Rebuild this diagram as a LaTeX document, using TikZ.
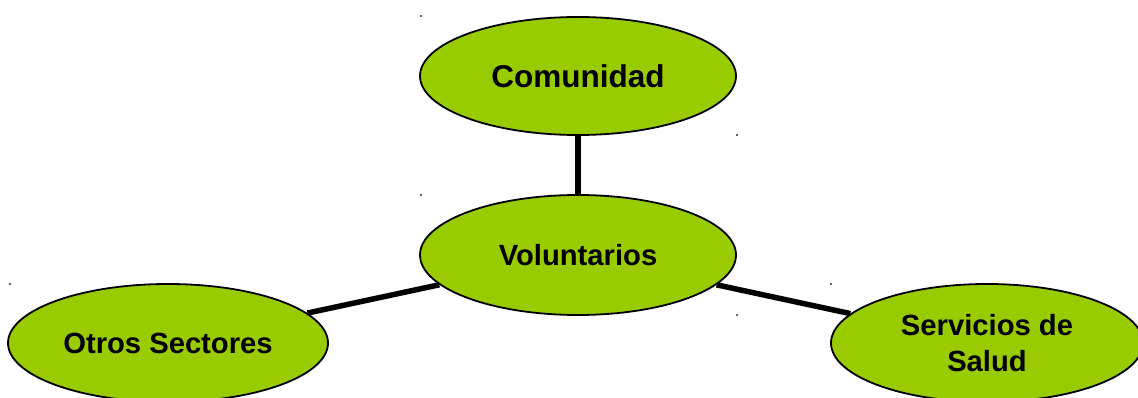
\documentclass[tikz,border=0pt]{standalone}
\usepackage{fontspec}
\setmainfont{Liberation Sans}
\usetikzlibrary{shapes.geometric}
\definecolor{leaf}{HTML}{99CC00}
\tikzset{
  bubble/.style={ellipse, draw=black, line width=1.8pt, fill=leaf, inner sep=0pt,
    minimum width=316pt, minimum height=118pt, align=center,
    font=\fontsize{29.2}{36}\selectfont\bfseries},
  link/.style={draw=black, line width=5.5pt},
  speck/.style={fill=black!60}
}
\begin{document}
\begin{tikzpicture}[x=1pt,y=-1pt]
\useasboundingbox (0,0) rectangle (1138,398);
\clip (0,0) rectangle (1138,398);
\fill[white] (0,0) rectangle (1138,398);
\node[bubble, font=\fontsize{31.5}{36}\selectfont\bfseries] (com) at (578,76) {Comunidad};
\node[bubble, minimum height=120pt] (vol) at (578,255) {Voluntarios};
\node[bubble, minimum width=320pt] (otr) at (168,343) {Otros Sectores};
\node[bubble, minimum width=312pt] (ser) at (987,343) {Servicios de\\Salud};
\draw[link] (com) -- (vol);
\draw[link] (vol) -- (otr);
\draw[link] (vol) -- (ser);
\foreach \p in {(421,16),(737,135),(421,195),(737,315),(10,284),(831,284)}
  \fill[speck] \p ++(-0.8,-0.8) rectangle ++(1.6,1.6);
\end{tikzpicture}
\end{document}
